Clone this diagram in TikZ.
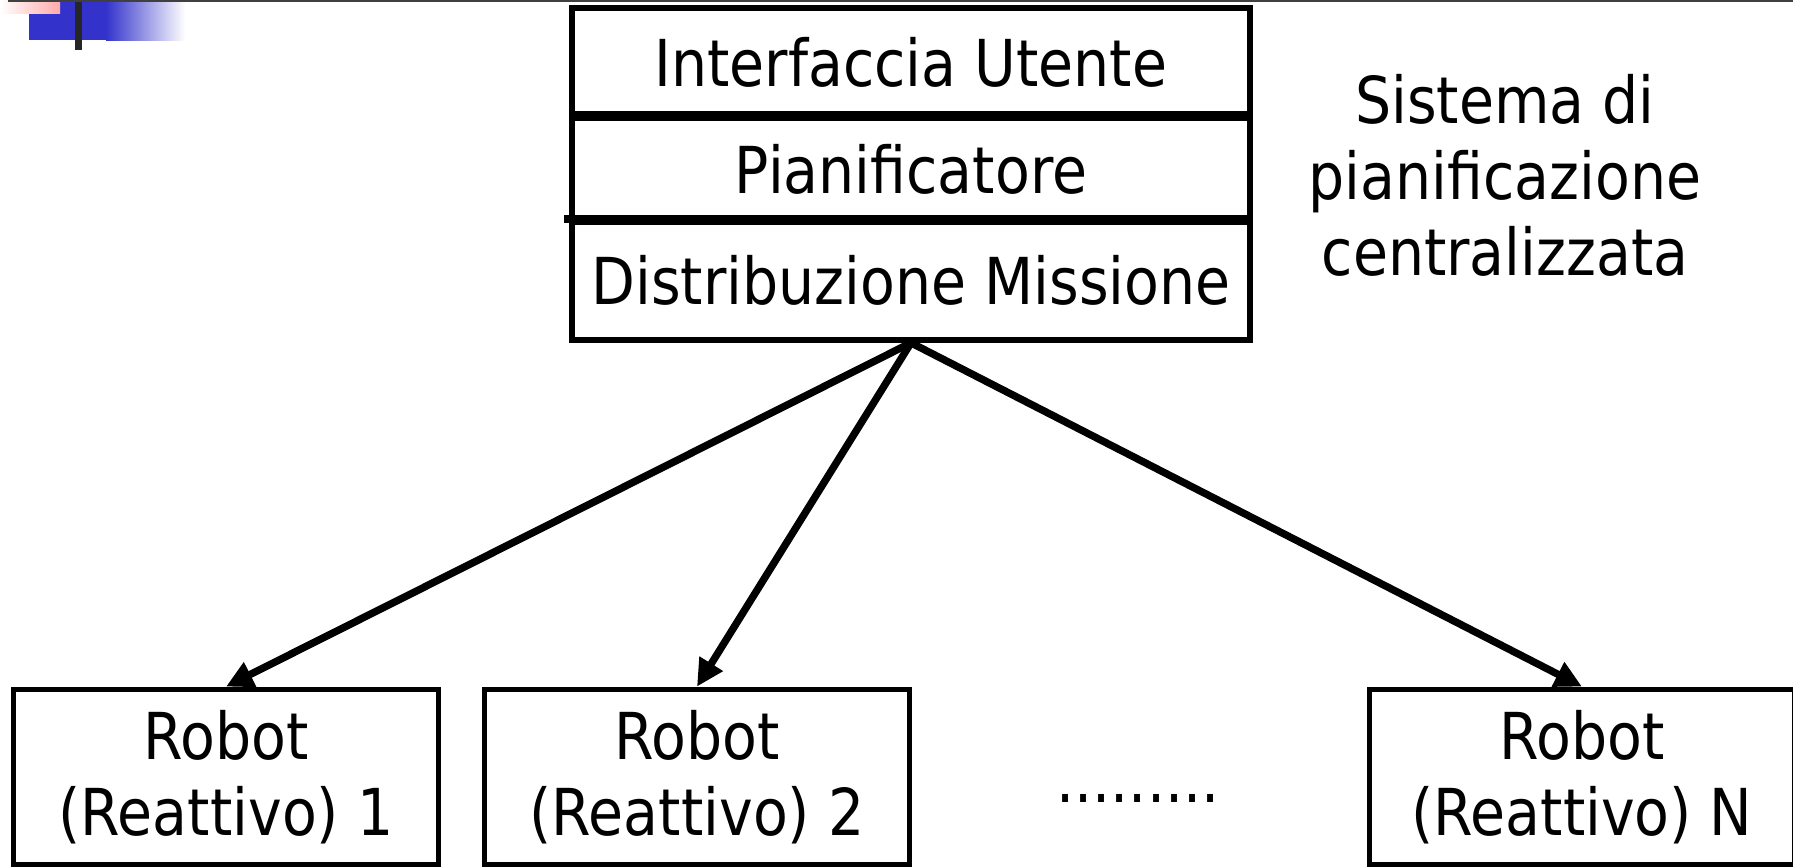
\documentclass[tikz,border=0pt]{standalone}
\usepackage{fontspec}
\setmainfont[FakeStretch=0.88]{DejaVu Sans}
\usepackage{tikz}
\usetikzlibrary{arrows.meta}
\definecolor{tplblue}{RGB}{51,51,204}
\definecolor{tplpink}{RGB}{255,170,170}

\begin{document}
\begin{tikzpicture}[x=0.01cm, y=-0.01cm,
		every node/.style={font=\fontsize{18.4pt}{21.6pt}\selectfont},
		layer/.style={draw, line width=1.6pt, minimum width=6.78cm, inner sep=0pt, text height=0.47cm, text depth=0pt},
		robot/.style={draw, line width=1.6pt, minimum width=4.25cm, minimum height=1.75cm, inner sep=0pt, align=center},
		conn/.style={line width=2.1pt, -{Triangle[length=0.27cm, width=0.26cm]}}]
			\useasboundingbox (0,0) rectangle (1793,868);
			\clip (0,0) rectangle (1793,868);
			
			% slide ornament
			\fill[tplblue] (29,2) rectangle (106,40);
			\shade[left color=tplblue, right color=white] (106,2) rectangle (185,41);
			\shade[left color=white, right color=tplpink] (0,0) rectangle (60,14);
			\fill[black!85] (75,0) rectangle (82,50);
			\fill[black!75] (8,0) rectangle (1793,2);
			
			\node[layer, minimum height=1.10cm] (ui) at (911,63) {Interfaccia Utente};
			\node[layer, minimum height=1.04cm] (plan) at (911,170) {Pianificatore};
			\node[layer, minimum height=1.18cm] (dist) at (911,281) {Distribuzione Missione};
			\draw[line width=2.1pt] (plan.north west) -- (plan.north east);
			\draw[line width=2.1pt] ([xshift=-0.05cm]dist.north west) -- (dist.north east);
			
			\node[align=center] (sysname) at (1505,175) {Sistema di\\pianificazione\\centralizzata};
			
			\node[robot] (r1) at (226,777) {Robot\\(Reattivo) 1};
			\node[robot] (r2) at (697,777) {Robot\\(Reattivo) 2};
			\node[robot] (rn) at (1582,777) {Robot\\(Reattivo) N};
			\node[anchor=base] (dots) at (1138,803) {.........};
			
			\foreach \r in {r1,r2,rn}
				\draw[conn] (dist.south) -- (\r.north);
		\end{tikzpicture}
\end{document}
